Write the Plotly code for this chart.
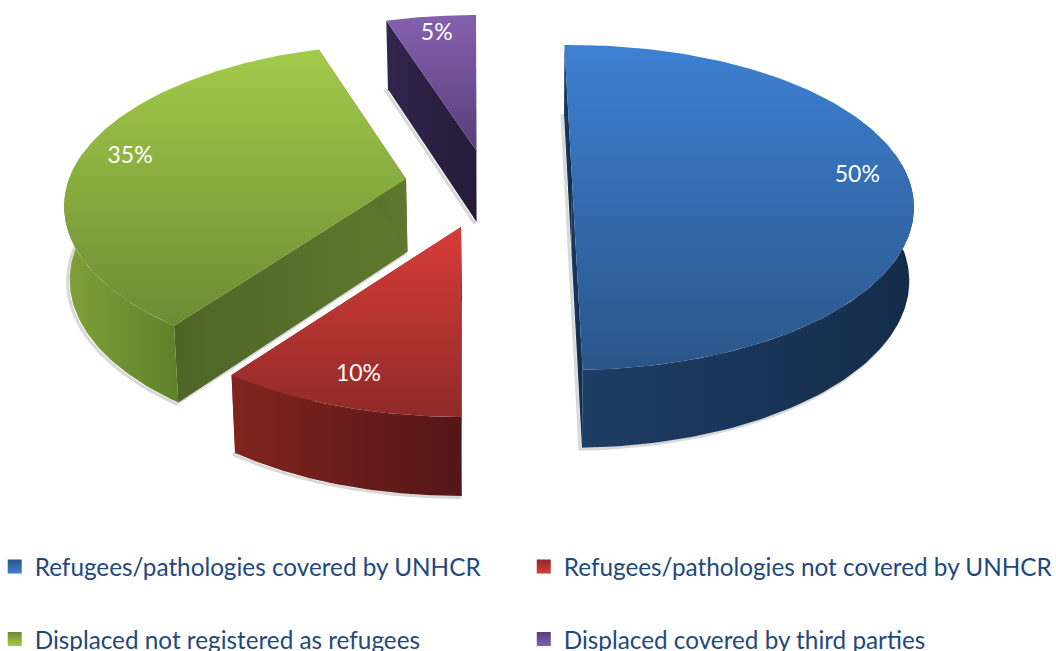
import numpy as np
import plotly.graph_objects as go

categories = ["Refugees/pathologies covered by UNHCR", "Refugees/pathologies not covered by UNHCR",
              "Displaced not registered as refugees", "Displaced covered by third parties"]
values = [50, 10, 35, 5]
labels = ["50%", "10%", "35%", "5%"]

# projection and styling
slice_rotation = [-1.5, 0.0, 0.5, 0.0]
A, B, K = 337.0, 157.8, 0.169
apexes = [(572, 180), (461, 227), (406, 179), (476, 150)]
top_colors = [("#3d80d2", "#2a5589"), ("#d83c38", "#8f2a29"), ("#a3cb4a", "#6b8c33"), ("#8461ad", "#5a3d7c")]
wall_colors = [("#1e3d64", "#142c4a"), ("#80241f", "#551617"), ("#7fa23a", "#5f8029"), ("#33244d", "#33244d")]
face_colors = [("#1b3a60", "#122a48"), ("#a33030", "#7a2220"), ("#4e6426", "#5e7a2e"), ("#33244d", "#261a38")]
text_color = "#1f497d"
font = "Lato"


def top_xy(apex, phi, r=1.0):
    u, v = r * np.sin(phi), r * np.cos(phi)
    w = 1 + K * v
    return apex[0] + A * u / w, apex[1] - B * v / w


def drop(x, y):
    # extrude a top-face point downward, converging slightly towards the chart's centre
    depth = 72 + 7 * np.clip((np.asarray(y) - 150) / 260, -0.8, 1)
    return 528 + (np.asarray(x) - 528) * 0.988, np.asarray(y) + depth


fig = go.Figure()


def poly(xs, ys, c1, c2, kind):
    fig.add_trace(go.Scatter(
        x=list(xs), y=list(ys), mode="lines", line=dict(width=0), fill="toself",
        fillgradient=dict(type=kind, colorscale=[[0, c1], [1, c2]]),
        hoverinfo="skip", showlegend=False))


fracs = np.cumsum([0] + values) / sum(values)
spans = []
for i in range(len(values)):
    a0 = np.deg2rad(slice_rotation[i] + 360 * fracs[i])
    a1 = np.deg2rad(slice_rotation[i] + 360 * fracs[i + 1])
    spans.append((a0, a1))

# soft shadow beneath the extruded edges
for i in range(len(values)):
    a0, a1 = spans[i]
    phis = np.linspace(a0, a1, 80)
    tx, ty = top_xy(apexes[i], phis)
    ax, ay = top_xy(apexes[i], 0.0, 0.0)
    bx, by = drop(np.r_[ax, tx, ax], np.r_[ay, ty, ay])
    fig.add_trace(go.Scatter(x=list(bx - 2), y=list(by + 1.5), mode="lines",
                             line=dict(color="rgba(90,90,90,0.24)", width=3),
                             hoverinfo="skip", showlegend=False))

# painter's order: back slice first
for i in [3, 0, 2, 1]:
    apex = apexes[i]
    a0, a1 = spans[i]
    phis = np.linspace(a0, a1, 160)
    tx, ty = top_xy(apex, phis)
    ax, ay = top_xy(apex, 0.0, 0.0)
    # radial side faces
    for phi in (a0, a1):
        ex, ey = top_xy(apex, phi)
        px = np.array([ax, ex])
        py = np.array([ay, ey])
        dx, dy = drop(px, py)
        c1, c2 = face_colors[i]
        poly(np.r_[px, dx[::-1], px[0]], np.r_[py, dy[::-1], py[0]], c1, c2, "horizontal")
    # outer wall, only where it faces the viewer
    m = (phis > np.deg2rad(80)) & (phis < np.deg2rad(280))
    if m.any():
        wx, wy = tx[m], ty[m]
        dx, dy = drop(wx, wy)
        c1, c2 = wall_colors[i]
        poly(np.r_[wx, dx[::-1], wx[0]], np.r_[wy, dy[::-1], wy[0]], c1, c2, "horizontal")
    # top face: gradient runs light at top to dark at bottom
    c1, c2 = top_colors[i]
    poly(np.r_[ax, tx, ax], np.r_[ay, ty, ay], c2, c1, "vertical")

# value labels
lx, ly = [], []
for i in range(len(values)):
    a0, a1 = spans[i]
    x, y = top_xy(apexes[i], (a0 + a1) / 2, 0.85)
    lx.append(float(x))
    ly.append(float(y))
fig.add_trace(go.Scatter(x=lx, y=ly, mode="text", text=labels, textposition="middle center",
                         textfont=dict(family=font, size=23, color="white"),
                         hoverinfo="skip", showlegend=False))

# legend entries
legend_slots = ["legend", "legend2", "legend", "legend2"]
for i, name in enumerate(categories):
    fig.add_trace(go.Scatter(x=[-100], y=[-100], mode="markers", name=name,
                             marker=dict(symbol="square", size=14, color=top_colors[i][1],
                                         gradient=dict(type="vertical", color=top_colors[i][0])),
                             legend=legend_slots[i], legendgroup=name, hoverinfo="skip"))

legend_common = dict(font=dict(family=font, size=24.3, color=text_color), tracegroupgap=38,
                     bgcolor="rgba(0,0,0,0)", yanchor="top", xanchor="left", itemsizing="trace",
                     traceorder="grouped", borderwidth=0)
fig.update_layout(
    width=1056, height=651, margin=dict(l=0, r=0, t=0, b=0, autoexpand=False),
    paper_bgcolor="white", plot_bgcolor="white",
    xaxis=dict(range=[0, 1056], visible=False, domain=[0, 1]),
    yaxis=dict(range=[651, 0], visible=False, domain=[0, 1]),
    legend=dict(x=-0.005, y=0.164, **legend_common),
    legend2=dict(x=0.496, y=0.164, **legend_common),
    showlegend=True,
)
fig.write_html("out.html", config={"displayModeBar": False},
               post_script="document.body.style.margin='0';document.documentElement.style.overflow='hidden';")
